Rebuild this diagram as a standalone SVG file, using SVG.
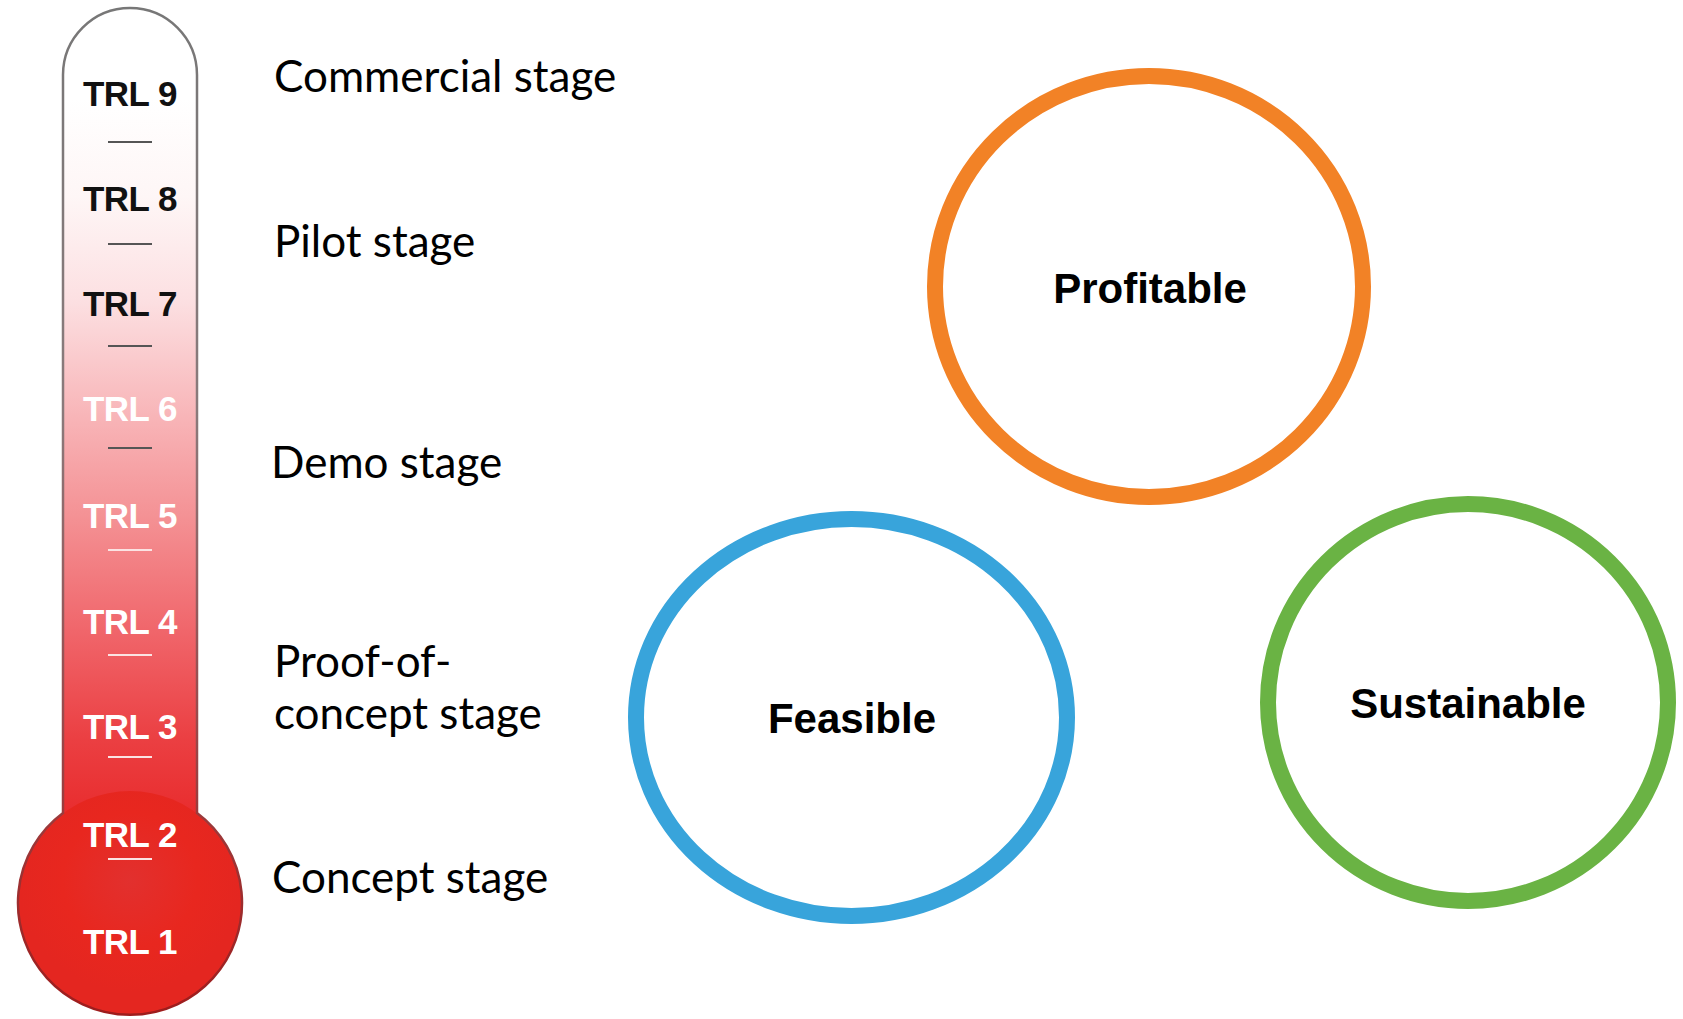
<svg xmlns="http://www.w3.org/2000/svg" width="1683" height="1019" viewBox="0 0 1683 1019">
<style>
.trl{font-family:"Liberation Sans",Arial,sans-serif;font-weight:bold;font-size:35px;text-anchor:middle;letter-spacing:-0.5px}
.dark{fill:#111}
.light{fill:#ffffff}
.stage{font-family:Lato,"Open Sans",sans-serif;font-size:44px;fill:#000}
.ring{fill:#fff;stroke-width:16}
.lbl{font-family:"Liberation Sans",Arial,sans-serif;font-weight:bold;font-size:42px;text-anchor:middle;fill:#000}
.tickd{stroke:#555;stroke-width:2}
.tickl{stroke:#fbe3e3;stroke-width:2}
</style>
<defs>
<linearGradient id="tubeFill" x1="0" y1="8" x2="0" y2="830" gradientUnits="userSpaceOnUse">
<stop offset="0" stop-color="#ffffff"/>
<stop offset="0.11" stop-color="#ffffff"/>
<stop offset="0.23" stop-color="#fef6f6"/>
<stop offset="0.355" stop-color="#fce0e2"/>
<stop offset="0.5" stop-color="#f8b4b7"/>
<stop offset="0.62" stop-color="#f49194"/>
<stop offset="0.76" stop-color="#f0656a"/>
<stop offset="0.89" stop-color="#eb3f42"/>
<stop offset="1" stop-color="#e8292a"/>
</linearGradient>
<linearGradient id="tubeStroke" x1="0" y1="8" x2="0" y2="1015" gradientUnits="userSpaceOnUse">
<stop offset="0" stop-color="#777"/>
<stop offset="0.4" stop-color="#8a7a7b"/>
<stop offset="0.7" stop-color="#9a4a4c"/>
<stop offset="1" stop-color="#9e1c1c"/>
</linearGradient>
<radialGradient id="bulbFill" cx="130" cy="880" r="112" gradientUnits="userSpaceOnUse">
<stop offset="0" stop-color="#e2302e"/>
<stop offset="0.6" stop-color="#e8271f"/>
<stop offset="1" stop-color="#e42620"/>
</radialGradient>
</defs>
<rect width="1683" height="1019" fill="#fff"/>
<g id="thermometer">
<path d="M63,830 L63,75 A67,67 0 0 1 197,75 L197,830 Z" fill="url(#tubeFill)"/>
<circle cx="130" cy="903" r="112" fill="url(#bulbFill)"/>
<path d="M63,813 L63,75 A67,67 0 0 1 197,75 L197,813 A112,112 0 1 1 63,813 Z" fill="none" stroke="url(#tubeStroke)" stroke-width="2.5"/>
<line class="tickd" x1="108" y1="142" x2="152" y2="142"/>
<line class="tickd" x1="108" y1="244" x2="152" y2="244"/>
<line class="tickd" x1="108" y1="346" x2="152" y2="346"/>
<line class="tickd" x1="108" y1="448" x2="152" y2="448"/>
<line class="tickl" x1="108" y1="550" x2="152" y2="550"/>
<line class="tickl" x1="108" y1="655" x2="152" y2="655"/>
<line class="tickl" x1="108" y1="757" x2="152" y2="757"/>
<line class="tickl" x1="108" y1="859" x2="152" y2="859"/>
<text class="trl dark" x="130" y="106">TRL 9</text>
<text class="trl dark" x="130" y="211">TRL 8</text>
<text class="trl dark" x="130" y="316">TRL 7</text>
<text class="trl light" x="130" y="421">TRL 6</text>
<text class="trl light" x="130" y="528">TRL 5</text>
<text class="trl light" x="130" y="634">TRL 4</text>
<text class="trl light" x="130" y="739">TRL 3</text>
<text class="trl light" x="130" y="847">TRL 2</text>
<text class="trl light" x="130" y="954">TRL 1</text>
</g>
<g id="stages">
<text class="stage" x="274" y="92">Commercial stage</text>
<text class="stage" x="274" y="257">Pilot stage</text>
<text class="stage" x="271" y="478">Demo stage</text>
<text class="stage" x="274" y="677">Proof-of-</text>
<text class="stage" x="274" y="729">concept stage</text>
<text class="stage" x="272" y="893">Concept stage</text>
</g>
<g id="profitable">
<ellipse class="ring" cx="1149" cy="286.5" rx="214" ry="210.5" stroke="#f28226"/>
<text class="lbl" x="1150" y="303">Profitable</text>
</g>
<g id="feasible">
<ellipse class="ring" cx="851.5" cy="717.5" rx="215.5" ry="198.5" stroke="#38a4db"/>
<text class="lbl" x="852" y="733">Feasible</text>
</g>
<g id="sustainable">
<ellipse class="ring" cx="1468" cy="702.5" rx="200" ry="198.5" stroke="#6ab344"/>
<text class="lbl" x="1468" y="718">Sustainable</text>
</g>
<g id="connectors"/>
</svg>
